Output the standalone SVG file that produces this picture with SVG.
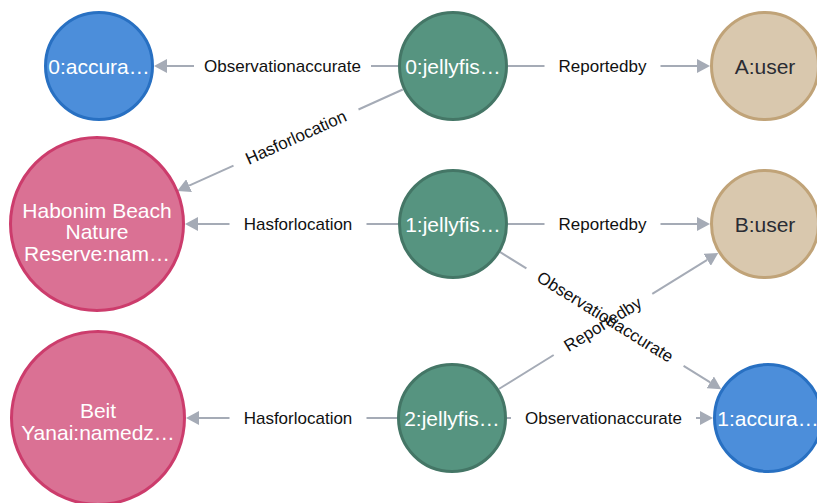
<svg xmlns="http://www.w3.org/2000/svg" width="817" height="503" viewBox="0 0 817 503">
<style>
.n circle{stroke-width:3}
.acc circle{fill:#4C8EDA;stroke:#2870C2}
.jel circle{fill:#569480;stroke:#447666}
.usr circle{fill:#D9C8AE;stroke:#C0A378}
.loc circle{fill:#DA7194;stroke:#CC3C6C}
.n text{font-family:"Liberation Sans",Arial,sans-serif;font-size:21px;text-anchor:middle;dominant-baseline:central;fill:#FFFFFF}
.usr text{fill:#2A2C34}
.e line{stroke:#A5ABB6;stroke-width:2}
.e text{font-family:"Liberation Sans",Arial,sans-serif;font-size:17px;text-anchor:middle;dominant-baseline:central;fill:#111}
</style>
<defs>
<marker id="arr" markerUnits="userSpaceOnUse" markerWidth="13" markerHeight="14" viewBox="0 0 13 14" refX="0" refY="7" orient="auto">
<path d="M0,0 L13,7 L0,14 Z" fill="#A5ABB6"/>
</marker>
</defs>
<rect width="817" height="503" fill="#FFFFFF"/>
<g id="connectors" class="e">
<!-- j0 -> acc0 -->
<line x1="398" y1="66" x2="371" y2="66"/>
<line x1="194" y1="66" x2="167" y2="66" marker-end="url(#arr)"/>
<text x="282.5" y="66">Observationaccurate</text>
<!-- j0 -> userA -->
<line x1="508" y1="66" x2="544.5" y2="66"/>
<line x1="660.5" y1="66" x2="697" y2="66" marker-end="url(#arr)"/>
<text x="602.5" y="66">Reportedby</text>
<!-- j0 -> hab -->
<line x1="402.8" y1="89.5" x2="358.5" y2="109.5"/>
<line x1="233.5" y1="165.7" x2="189.1" y2="185.6" marker-end="url(#arr)"/>
<text x="296" y="137.6" transform="rotate(-24.2 296 137.6)">Hasforlocation</text>
<!-- j1 -> hab -->
<line x1="398" y1="224" x2="366.5" y2="224"/>
<line x1="229.5" y1="224" x2="198" y2="224" marker-end="url(#arr)"/>
<text x="298" y="224">Hasforlocation</text>
<!-- j1 -> userB -->
<line x1="508" y1="224" x2="544.5" y2="224"/>
<line x1="660.5" y1="224" x2="697" y2="224" marker-end="url(#arr)"/>
<text x="602.5" y="224">Reportedby</text>
<!-- j1 -> acc1 -->
<line x1="499.8" y1="251.9" x2="526.4" y2="268.4"/>
<line x1="683.6" y1="365.8" x2="710.2" y2="382.3" marker-end="url(#arr)"/>
<text x="605" y="317.1" transform="rotate(31.8 605 317.1)">Observationaccurate</text>
<!-- j2 -> userB -->
<line x1="498.8" y1="389" x2="553.7" y2="355"/>
<line x1="652.3" y1="293.8" x2="707.2" y2="259.8" marker-end="url(#arr)"/>
<text x="603" y="324.4" transform="rotate(-31.8 603 324.4)">Reportedby</text>
<!-- j2 -> acc1 -->
<line x1="507" y1="418" x2="511" y2="418"/>
<line x1="696" y1="418" x2="700" y2="418" marker-end="url(#arr)"/>
<text x="603.5" y="418">Observationaccurate</text>
<!-- j2 -> beit -->
<line x1="397" y1="418" x2="366.5" y2="418"/>
<line x1="229.5" y1="418" x2="199" y2="418" marker-end="url(#arr)"/>
<text x="298" y="418">Hasforlocation</text>
</g>
<g id="acc0" class="n acc"><circle cx="99" cy="66" r="53.5"/><text x="99" y="66">0:accura…</text></g>
<g id="j0" class="n jel"><circle cx="453" cy="66" r="53.5"/><text x="453" y="66">0:jellyfis…</text></g>
<g id="userA" class="n usr"><circle cx="765" cy="66" r="53.5"/><text x="765" y="66">A:user</text></g>
<g id="hab" class="n loc"><circle cx="97" cy="224" r="86.5"/><text x="97" y="210">Habonim Beach</text><text x="97" y="231.5">Nature</text><text x="97" y="253">Reserve:nam…</text></g>
<g id="j1" class="n jel"><circle cx="453" cy="224" r="53.5"/><text x="453" y="224">1:jellyfis…</text></g>
<g id="userB" class="n usr"><circle cx="765" cy="224" r="53.5"/><text x="765" y="224">B:user</text></g>
<g id="beit" class="n loc"><circle cx="98" cy="418" r="86.5"/><text x="98" y="410">Beit</text><text x="98" y="432">Yanai:namedz…</text></g>
<g id="j2" class="n jel"><circle cx="452" cy="418" r="53.5"/><text x="452" y="418">2:jellyfis…</text></g>
<g id="acc1" class="n acc"><circle cx="768" cy="418" r="53.5"/><text x="768" y="418">1:accura…</text></g>
</svg>
